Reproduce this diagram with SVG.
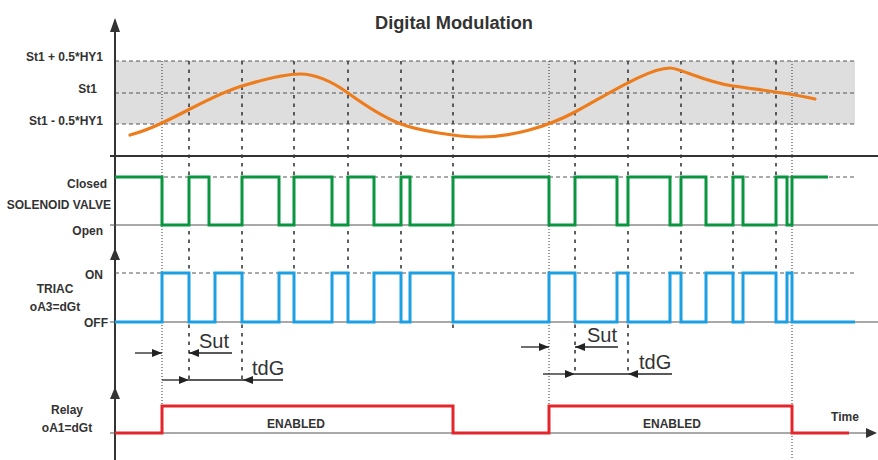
<svg xmlns="http://www.w3.org/2000/svg" width="878" height="460" viewBox="0 0 878 460">
<defs>
<style>
.lbl{font-family:"Liberation Sans",Arial,sans-serif;font-weight:bold;font-size:12px;fill:#333}
.big{font-family:"Liberation Sans",Arial,sans-serif;font-size:20px;fill:#333}
.ax{stroke:#333;stroke-width:2;fill:none}
.base{stroke:#555;stroke-width:1.2;fill:none}
.hd{stroke:#555;stroke-width:1;stroke-dasharray:4 3;fill:none}
.vd{stroke:#444;stroke-width:1.7;stroke-dasharray:3.5 5;fill:none}
.vf{stroke:#333;stroke-width:1;stroke-dasharray:1 2;fill:none}
.dim{stroke:#222;stroke-width:1.3;fill:none}
.wave{fill:none;stroke-width:3;stroke-linejoin:miter}
</style>
<marker id="ah" viewBox="0 0 10 8" refX="10" refY="4" markerWidth="10" markerHeight="8" markerUnits="userSpaceOnUse" orient="auto">
<path d="M0,0 L10,4 L0,8 Z" fill="#222"/>
</marker>
</defs>
<rect width="878" height="460" fill="#fff"/>
<text x="375" y="29" textLength="158" lengthAdjust="spacingAndGlyphs" style="font-family:'Liberation Sans',Arial,sans-serif;font-weight:bold;font-size:18px;fill:#333">Digital Modulation</text>

<g id="band">
<rect x="115" y="61" width="740" height="63" fill="#dedede"/>
<path class="hd" d="M115,61 H855 M115,93 H855 M115,124 H855"/>
</g>

<g id="grid">
<path class="vd" d="M189,61 V381 M242,61 V381 M294,61 V324 M348,61 V324 M401,61 V324 M453,61 V332 M575,61 V375 M628,61 V375 M681,61 V324 M733,61 V324 M776,61 V324"/>
<path class="vf" d="M162,61 V406 M549,61 V406 M792,61 V460"/>
</g>

<g id="axes">
<path class="ax" d="M115,20 V460 M110,156 H878"/>
<polygon points="115,18 110,32 120,32" fill="#333"/>
<polygon points="115,248 110,260 120,260" fill="#333"/>
<polygon points="115,387 110,399 120,399" fill="#333"/>
<path class="base" d="M110,225 H878 M110,322 H878 M110,433 H868"/>
<polygon points="877,433 866,428 866,438" fill="#333"/>
<path class="hd" d="M115,177 H855 M115,273 H855"/>
</g>

<g id="labels">
<text class="lbl" x="103" y="61" text-anchor="end">St1 + 0.5*HY1</text>
<text class="lbl" x="97" y="93" text-anchor="end">St1</text>
<text class="lbl" x="103" y="125" text-anchor="end">St1 - 0.5*HY1</text>
<text class="lbl" x="107" y="188" text-anchor="end">Closed</text>
<text class="lbl" x="111" y="209" text-anchor="end">SOLENOID VALVE</text>
<text class="lbl" x="103" y="235" text-anchor="end">Open</text>
<text class="lbl" x="103" y="279" text-anchor="end">ON</text>
<text class="lbl" x="55" y="293" text-anchor="middle">TRIAC</text>
<text class="lbl" x="55" y="311" text-anchor="middle">oA3=dGt</text>
<text class="lbl" x="108" y="327" text-anchor="end">OFF</text>
<text class="lbl" x="67" y="414" text-anchor="middle">Relay</text>
<text class="lbl" x="67" y="432" text-anchor="middle">oA1=dGt</text>
<text class="lbl" x="845" y="421" text-anchor="middle">Time</text>
</g>

<g id="temperature">
<path d="M130,135 C170,124 205,97 242,86 C260,80.6 285,74 300,74 C315,74 330,80 348,93 C365,105.3 385,118 401,124 C417,130 455,137 480,137 C510,137 545,128 575,112 C605,96 648,68 670,68 C680,68 705,82 733,86 C760,90 790,93 815,99" fill="none" stroke="#ED7D1C" stroke-width="3.2" stroke-linecap="round"/>
</g>

<g id="solenoid">
<path class="wave" stroke="#0A9641" d="M115,177 H162 V225 H189 V177 H209 V225 H242 V177 H279 V225 H294 V177 H332 V225 H348 V177 H374 V225 H401 V177 H410 V225 H453 V177 H549 V225 H575 V177 H617 V225 H628 V177 H670 V225 H681 V177 H706 V225 H733 V177 H743 V225 H776 V177 H787 V225 H792 V177 H828"/>
</g>

<g id="triac">
<path class="wave" stroke="#1CA0E3" d="M115,322 H162 V273 H189 V322 H215 V273 H242 V322 H279 V273 H294 V322 H332 V273 H348 V322 H374 V273 H401 V322 H410 V273 H453 V322 H549 V273 H575 V322 H617 V273 H628 V322 H670 V273 H681 V322 H706 V273 H733 V322 H743 V273 H776 V322 H787 V273 H792 V322 H855"/>
</g>

<g id="relay">
<path class="wave" stroke="#E3262B" d="M115,433 H162 V406 H453 V433 H549 V406 H792 V433 H849"/>
<text class="lbl" x="296" y="428" text-anchor="middle">ENABLED</text>
<text class="lbl" x="672" y="428" text-anchor="middle">ENABLED</text>
</g>

<g id="connectors">
<path class="dim" d="M135,353 H162" marker-end="url(#ah)"/>
<path class="dim" d="M232,353 H189" marker-end="url(#ah)"/>
<path class="dim" d="M162,380 H189" marker-end="url(#ah)"/>
<path class="dim" d="M189,380 H243"/>
<path class="dim" d="M283,380 H243" marker-end="url(#ah)"/>
<path class="dim" d="M521,347 H549" marker-end="url(#ah)"/>
<path class="dim" d="M618,347 H575" marker-end="url(#ah)"/>
<path class="dim" d="M543,374 H575" marker-end="url(#ah)"/>
<path class="dim" d="M575,374 H628"/>
<path class="dim" d="M672,374 H628" marker-end="url(#ah)"/>
<text class="big" x="199" y="348">Sut</text>
<text class="big" x="252" y="375">tdG</text>
<text class="big" x="587" y="342">Sut</text>
<text class="big" x="639" y="369">tdG</text>
</g>
</svg>
